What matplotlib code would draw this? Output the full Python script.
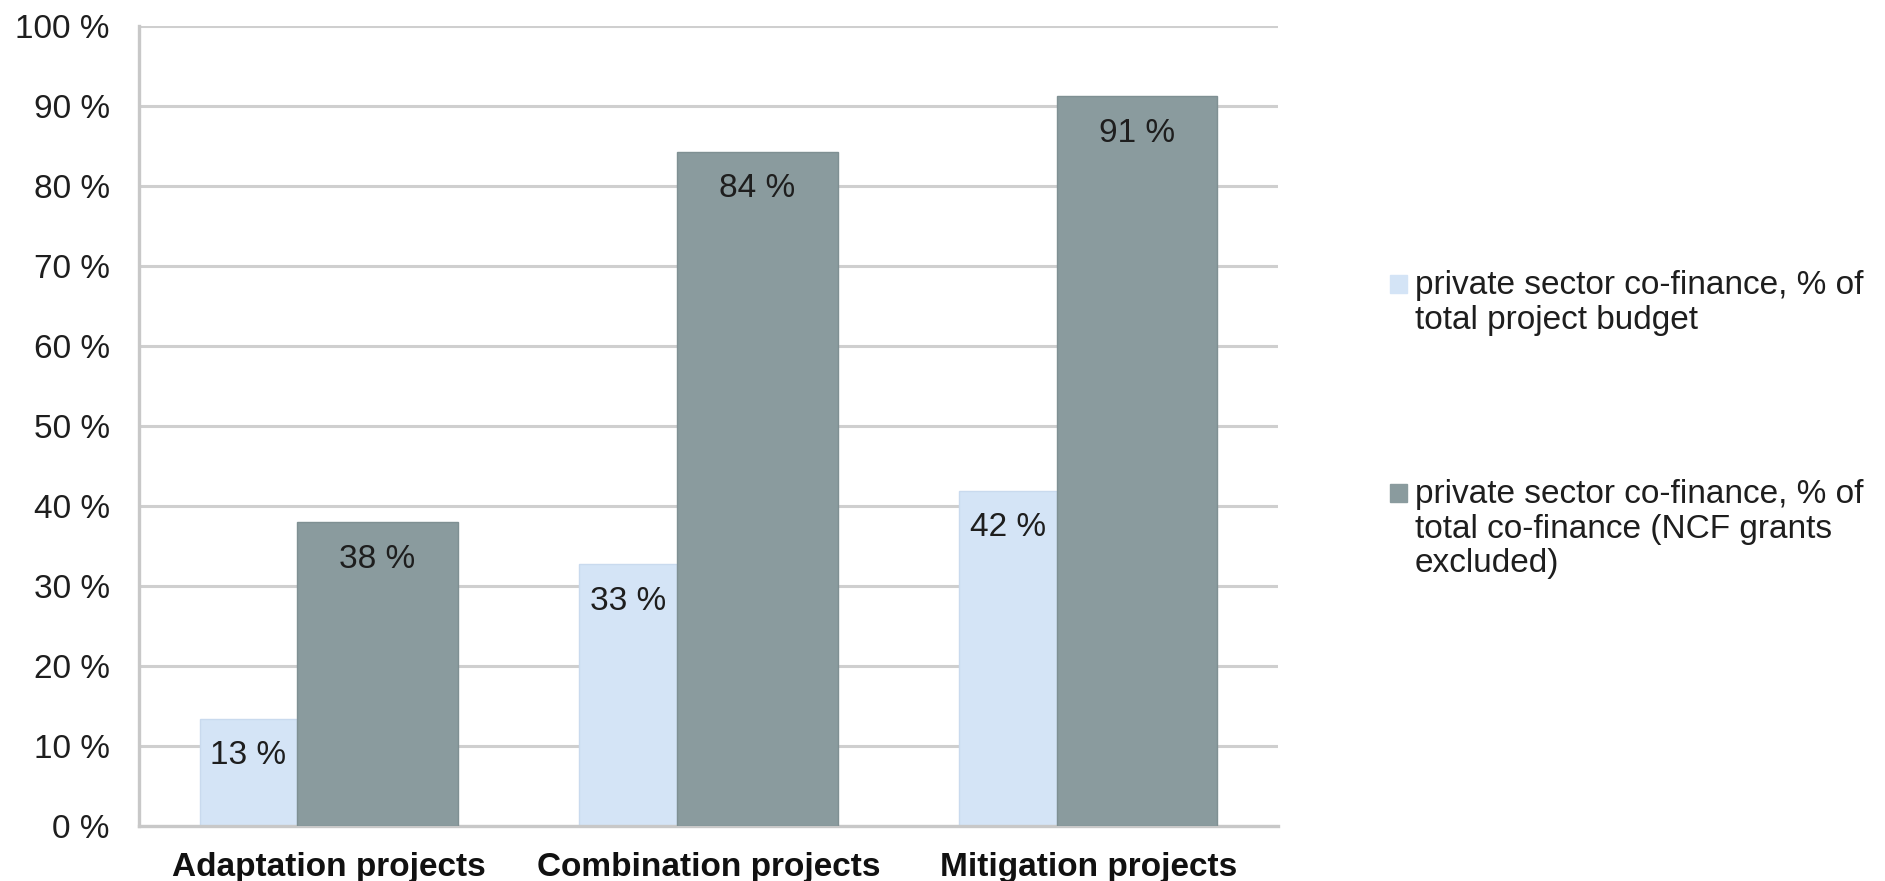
import matplotlib
matplotlib.use('Agg')
import matplotlib.pyplot as plt
from matplotlib.patches import Rectangle
import numpy as np

plt.rcParams['font.family'] = ['Liberation Sans', 'DejaVu Sans']

# data
categories = ['Adaptation projects', 'Combination projects', 'Mitigation projects']
budget_share = [13.4, 32.7, 41.9]      # private sector co-finance, % of total project budget
cofin_share = [38.0, 84.3, 91.2]       # private sector co-finance, % of total co-finance
yticks = [0, 10, 20, 30, 40, 50, 60, 70, 80, 90, 100]
ytick_labels = ['0 %', '10 %', '20 %', '30 %', '40 %', '50 %', '60 %', '70 %', '80 %', '90 %', '100 %']
legend_labels = ['private sector co-finance, % of\ntotal project budget',
                 'private sector co-finance, % of\ntotal co-finance (NCF grants\nexcluded)']

light = '#d4e4f6'
dark = '#8a9b9e'
grid_c = '#cfcfcf'
txt_c = '#1e1e1e'

W, H = 1885, 881
fig = plt.figure(figsize=(W / 100, H / 100), dpi=100)
ax = fig.add_axes([139 / W, 1 - 826 / H, (1278 - 139) / W, 800 / H])

x = np.arange(len(categories))
# light bar sits left and is partly covered by the wider dark bar
ax.bar(x - 0.34, budget_share, width=0.257, align='edge', color=light,
       edgecolor='#c9daee', linewidth=1, zorder=2)
ax.bar(x - 0.083, cofin_share, width=0.423, align='edge', color=dark,
       edgecolor='#7f9093', linewidth=1, zorder=3)

# value labels inside the bars, just below the top
for i in range(len(categories)):
    ax.annotate('%.0f %%' % budget_share[i], (x[i] - 0.34 + 0.257 / 2, budget_share[i]),
                xytext=(0, -37), textcoords='offset pixels', ha='center', va='center',
                fontsize=24, color=txt_c, zorder=4)
    ax.annotate('%.0f %%' % cofin_share[i], (x[i] - 0.083 + 0.423 / 2, cofin_share[i]),
                xytext=(0, -37), textcoords='offset pixels', ha='center', va='center',
                fontsize=24, color=txt_c, zorder=4)

ax.set_xlim(-0.5, len(categories) - 0.5)
ax.set_ylim(0, 100)
ax.set_yticks(yticks)
ax.set_yticklabels(ytick_labels, fontsize=24, color=txt_c)
ax.set_xticks(x)
ax.set_xticklabels(categories, fontsize=24, fontweight='bold', color='#111111')
ax.tick_params(axis='y', length=0, pad=21)
ax.tick_params(axis='x', length=0, pad=19)

ax.yaxis.grid(True, color=grid_c, linewidth=2.2, zorder=0)
ax.set_axisbelow(True)
for s in ['top', 'right']:
    ax.spines[s].set_visible(False)
for s in ['left', 'bottom']:
    ax.spines[s].set_color('#c8c8c8')
    ax.spines[s].set_linewidth(2.4)

# legend drawn by hand so the square lines up with the first text line
leg_colors = [light, dark]
leg_top = [275, 484]   # square top, px from top of image
for c, lab, yt in zip(leg_colors, legend_labels, leg_top):
    fig.add_artist(Rectangle((1390 / W, 1 - (yt + 18) / H), 17 / W, 18 / H,
                             transform=fig.transFigure, color=c))
    fig.text(1415 / W, 1 - (yt - 5) / H, lab, fontsize=24, color=txt_c,
             ha='left', va='top', linespacing=1.15)

fig.savefig('out.png', dpi=100)
